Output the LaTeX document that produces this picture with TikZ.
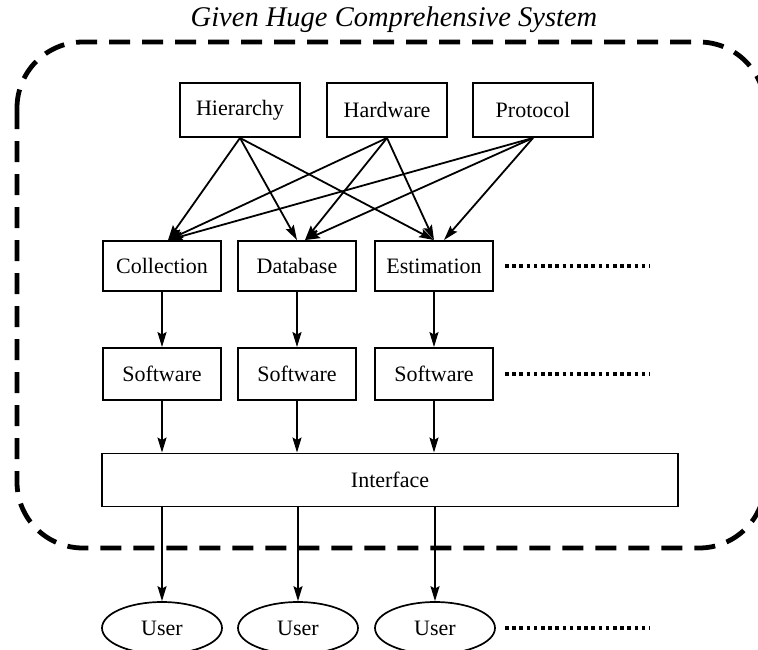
\documentclass[tikz,border=0pt]{standalone}
\usepackage{fontspec}
\setmainfont{Liberation Serif}
\usetikzlibrary{arrows.meta,shapes.geometric,calc}
\begin{document}
\begin{tikzpicture}[x=1pt,y=-1pt,
  box/.style={draw,line width=1.9pt,minimum width=118pt,minimum height=50pt,inner sep=0pt,font=\fontsize{22}{26}\selectfont},
  topbox/.style={box,minimum width=120pt,minimum height=54pt},
  userell/.style={draw,ellipse,line width=1.7pt,minimum width=120pt,minimum height=52pt,inner sep=0pt,font=\fontsize{22}{26}\selectfont},
  link/.style={line width=1.8pt,-{Stealth[length=15pt,width=9pt,inset=2.5pt]}},
  border/.style={line width=4.8pt,dash pattern=on 21pt off 12pt,rounded corners=66pt},
  more/.style={line width=3.6pt,dash pattern=on 3.6pt off 3.6pt}]
\useasboundingbox (0,0) rectangle (758,649);

% outer system boundary and its caption
\draw[border] (17,42) rectangle (765,548);
\node (title) at (394,20) {\fontsize{28.5}{32}\selectfont\itshape Given Huge Comprehensive System};

% top layer
\node[topbox] (hier) at (240,110) {Hierarchy};
\node[topbox] (hard) at (387,110) {Hardware};
\node[topbox] (prot) at (533,110) {Protocol};

% function layer
\node[box] (col) at (162,266) {Collection};
\node[box] (db)  at (297,266) {Database};
\node[box] (est) at (434,266) {Estimation};
\coordinate (d1a) at (505,266);
\coordinate (d1b) at (650,266);
\draw[more] (d1a) -- (d1b);

% software layer
\node[box,minimum height=52pt] (sw1) at (162,374) {Software};
\node[box,minimum height=52pt] (sw2) at (297,374) {Software};
\node[box,minimum height=52pt] (sw3) at (434,374) {Software};
\coordinate (d2a) at (505,374);
\coordinate (d2b) at (650,374);
\draw[more] (d2a) -- (d2b);

% interface
\node[box,minimum width=576pt,minimum height=53pt] (iface) at (390,480) {Interface};

% users
\node[userell] (u1) at (162,628) {User};
\node[userell] (u2) at (298,628) {User};
\node[userell] (u3) at (435,628) {User};
\coordinate (d3a) at (505,628);
\coordinate (d3b) at (650,628);
\draw[more] (d3a) -- (d3b);

% fan-out from the top layer
\draw[link] (hier.south) -- ($(col.north)+(6,0)$);
\draw[link] (hier.south) -- (db.north);
\draw[link] (hier.south) -- (est.north);
\draw[link] (hard.south) -- ($(col.north)+(6,0)$);
\draw[link] (hard.south) -- ($(db.north)+(8,0)$);
\draw[link] (hard.south) -- (est.north);
\draw[link] (prot.south) -- ($(col.north)+(6,0)$);
\draw[link] (prot.south) -- ($(db.north)+(8,0)$);
\draw[link] (prot.south) -- ($(est.north)+(10,0)$);

% vertical flow
\draw[link] (col) -- (sw1);
\draw[link] (db) -- (sw2);
\draw[link] (est) -- (sw3);
\draw[link] (sw1.south) -- (sw1.south |- iface.north);
\draw[link] (sw2.south) -- (sw2.south |- iface.north);
\draw[link] (sw3.south) -- (sw3.south |- iface.north);
\draw[link] (u1.north |- iface.south) -- (u1.north);
\draw[link] (u2.north |- iface.south) -- (u2.north);
\draw[link] (u3.north |- iface.south) -- (u3.north);
\end{tikzpicture}
\end{document}
